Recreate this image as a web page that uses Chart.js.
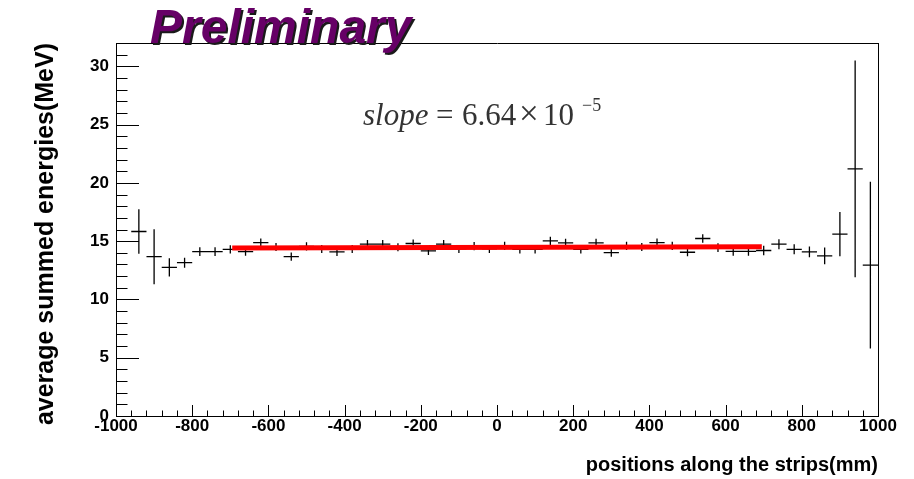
<!DOCTYPE html>
<html>
<head>
<meta charset="utf-8">
<script src="https://cdn.jsdelivr.net/npm/chart.js@4.4.0/dist/chart.umd.min.js"></script>
<style>
  html, body { margin: 0; padding: 0; background: #fff; }
  #plot { display: block; }
</style>
</head>
<body>
<canvas id="plot" width="914" height="479"></canvas>
<script>
// bin centres (mm), mean summed energy (MeV) and its error
const positions = [
  -940, -900, -860, -820, -780, -740, -700, -660, -620, -580,
  -540, -500, -460, -420, -380, -340, -300, -260, -220, -180,
  -140, -100, -60, -20, 20, 60, 100, 140, 180, 220,
  260, 300, 340, 380, 420, 460, 500, 540, 580, 620,
  660, 700, 740, 780, 820, 860, 900, 940, 980
];
const energies = [
  15.83, 13.67, 12.75, 13.15, 14.10, 14.10, 14.30, 14.10, 14.88, 14.50,
  13.67, 14.55, 14.33, 14.08, 14.33, 14.74, 14.74, 14.48, 14.80, 14.16,
  14.74, 14.33, 14.57, 14.33, 14.60, 14.30, 14.30, 15.03, 14.85, 14.30,
  14.85, 14.02, 14.60, 14.50, 14.88, 14.60, 14.05, 15.23, 14.45, 14.13,
  14.13, 14.20, 14.74, 14.30, 14.08, 13.73, 15.60, 21.20, 12.95
];
const errors = [
  1.90, 2.36, 0.79, 0.43, 0.37, 0.37, 0.35, 0.35, 0.35, 0.35,
  0.35, 0.35, 0.35, 0.35, 0.35, 0.35, 0.35, 0.35, 0.35, 0.35,
  0.35, 0.35, 0.35, 0.35, 0.35, 0.35, 0.35, 0.35, 0.35, 0.35,
  0.35, 0.35, 0.35, 0.35, 0.35, 0.35, 0.35, 0.37, 0.37, 0.38,
  0.38, 0.40, 0.43, 0.43, 0.46, 0.72, 1.90, 9.29, 7.15
];
const binHalfWidth = 20;

// linear fit, drawn between its range ends
const fitX = [-695, 695];
const fitY = [14.42, 14.52];

// one polyline with gaps: horizontal arm then vertical error bar per bin
const crosses = [];
positions.forEach((p, i) => {
  const v = energies[i], e = errors[i];
  crosses.push({x: p - binHalfWidth, y: v}, {x: p + binHalfWidth, y: v}, {x: p, y: null});
  crosses.push({x: p, y: v - e}, {x: p, y: v + e}, {x: p, y: null});
});

const FONT = '"Liberation Sans", Arial, sans-serif';

// ROOT style ticks pointing into the frame
const innerTicks = {
  id: 'innerTicks',
  afterDatasetsDraw(chart) {
    const {ctx, chartArea: a, scales: {x, y}} = chart;
    ctx.save();
    ctx.strokeStyle = '#000';
    ctx.lineWidth = 1;
    ctx.beginPath();
    x.ticks.forEach(t => {
      const px = Math.round(x.getPixelForValue(t.value)) + 0.5;
      const len = t.value % 200 === 0 ? 11 : 5.5;
      ctx.moveTo(px, a.bottom);
      ctx.lineTo(px, a.bottom - len);
    });
    y.ticks.forEach(t => {
      if (!Number.isInteger(t.value)) return;
      const py = Math.round(y.getPixelForValue(t.value)) + 0.5;
      const len = t.value % 5 === 0 ? 23 : 11.5;
      ctx.moveTo(a.left, py);
      ctx.lineTo(a.left + len, py);
    });
    ctx.stroke();
    ctx.restore();
  }
};

// "Preliminary" stamp and the fit result
const annotations = {
  id: 'annotations',
  afterDraw(chart) {
    const ctx = chart.ctx;
    ctx.save();
    ctx.textBaseline = 'alphabetic';
    ctx.textAlign = 'left';

    ctx.font = 'italic bold 48px ' + FONT;
    ctx.fillStyle = '#1a1a1a';
    ctx.fillText('Preliminary', 152, 45);
    ctx.fillStyle = '#660066';
    ctx.fillText('Preliminary', 150, 43);

    ctx.fillStyle = '#333';
    ctx.font = 'italic 31px "Liberation Serif", serif';
    ctx.fillText('slope', 363, 125);
    ctx.font = '31px "Liberation Serif", serif';
    ctx.fillText('=', 436, 125);
    ctx.fillText('6.64', 462, 125);
    ctx.font = '35px "Liberation Serif", serif';
    ctx.fillText('\u00d7', 519, 125);
    ctx.font = '31px "Liberation Serif", serif';
    ctx.fillText('10', 543, 125);
    ctx.font = '18px "Liberation Serif", serif';
    ctx.fillText('\u22125', 582, 111);
    ctx.restore();
  }
};

const blackBorder = {display: true, color: '#000', width: 1};

new Chart(document.getElementById('plot'), {
  type: 'scatter',
  data: {
    datasets: [
      {
        label: 'fit',
        data: fitX.map((x, i) => ({x: x, y: fitY[i]})),
        showLine: true,
        borderColor: '#ff0000',
        borderWidth: 5,
        pointRadius: 0,
        borderCapStyle: 'butt'
      },
      {
        label: 'energy',
        data: crosses,
        showLine: true,
        spanGaps: false,
        borderColor: '#000',
        borderWidth: 1.3,
        pointRadius: 0
      }
    ]
  },
  options: {
    responsive: false,
    animation: false,
    layout: { padding: 0 },
    plugins: {
      legend: { display: false },
      tooltip: { enabled: false },
      title: { display: false }
    },
    scales: {
      x: {
        type: 'linear',
        position: 'bottom',
        min: -1000,
        max: 1000,
        grid: { display: false, drawTicks: false },
        border: blackBorder,
        ticks: {
          stepSize: 40,
          autoSkip: false,
          maxRotation: 0,
          padding: 0,
          color: '#000',
          font: { family: FONT, size: 17, weight: 'bold' },
          callback: v => (v % 200 === 0 ? v : '')
        },
        title: {
          display: true,
          text: 'positions along the strips(mm)',
          align: 'end',
          color: '#000',
          font: { family: FONT, size: 20, weight: 'bold' },
          padding: { top: 0, bottom: 2 }
        },
        afterFit: s => { s.height = 63; }
      },
      x2: {
        type: 'linear',
        position: 'top',
        min: -1000,
        max: 1000,
        grid: { display: false, drawTicks: false },
        border: blackBorder,
        ticks: { display: false },
        afterFit: s => { s.height = 43; }
      },
      y: {
        type: 'linear',
        position: 'left',
        min: 0,
        max: 32,
        grid: { display: false, drawTicks: false },
        border: blackBorder,
        ticks: {
          stepSize: 1,
          autoSkip: false,
          padding: 7,
          color: '#000',
          font: { family: FONT, size: 17, weight: 'bold' },
          callback: v => (v % 5 === 0 ? v : '')
        },
        title: {
          display: true,
          text: 'average summed energies(MeV)',
          align: 'end',
          color: '#000',
          font: { family: FONT, size: 25, weight: 'bold' },
          padding: { top: 31, bottom: 0 }
        },
        afterFit: s => { s.width = 116; }
      },
      y2: {
        type: 'linear',
        position: 'right',
        min: 0,
        max: 32,
        grid: { display: false, drawTicks: false },
        border: blackBorder,
        ticks: { display: false },
        afterFit: s => { s.width = 36; }
      }
    }
  },
  plugins: [innerTicks, annotations]
});
</script>
</body>
</html>
